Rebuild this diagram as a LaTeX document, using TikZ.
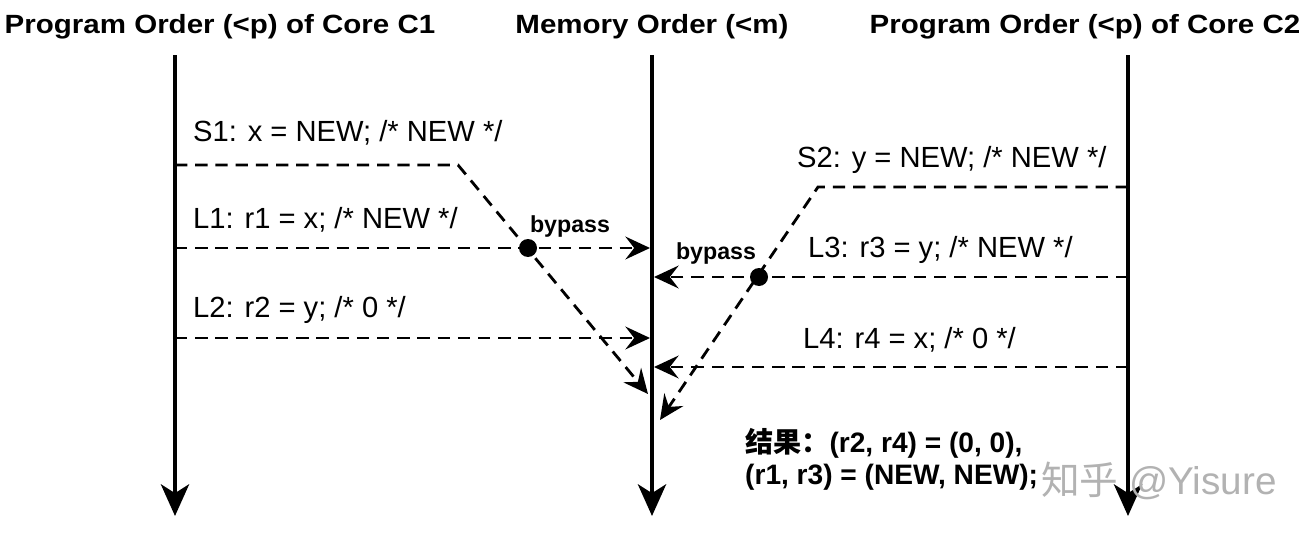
\documentclass[tikz,border=0pt]{standalone}
\usepackage{fontspec}
\setmainfont{Liberation Sans}
\newfontfamily\cjk{Noto Sans CJK SC}
\usetikzlibrary{arrows.meta}

\begin{document}
\begin{tikzpicture}[
    x=0.02cm, y=-0.02cm,
    timeline/.style={-{Stealth[length=18pt, width=16pt, inset=5pt]}, line width=2.4pt},
    msg/.style={-{Stealth[length=14pt, width=13pt, inset=5pt]}, line width=1.6pt, dash pattern=on 7pt off 4.5pt},
    title/.style={font=\fontsize{15}{17}\selectfont\bfseries},
    instr/.style={anchor=west, font=\fontsize{16.6}{19}\selectfont},
    result/.style={anchor=west, font=\fontsize{16}{19}\selectfont\bfseries},
    tag/.style={font=\fontsize{13.2}{15}\selectfont\bfseries},
    dot/.style={circle, fill=black, inner sep=0pt, minimum size=0.36cm}
]
\useasboundingbox[fill=white] (0,0) rectangle (1312,534);

% Titles
\node[title] (t1) at (220,27) {\scalebox{1.12}[1]{Program Order (<p) of Core C1}};
\node[title] (tm) at (652,27) {\scalebox{1.12}[1]{Memory Order (<m)}};
\node[title] (t2) at (1085,27) {\scalebox{1.12}[1]{Program Order (<p) of Core C2}};

% Time lines
\coordinate (c1top) at (175,55);  \coordinate (c1bot) at (175,516);
\coordinate (memtop) at (652,55); \coordinate (membot) at (652,516);
\coordinate (c2top) at (1128,55); \coordinate (c2bot) at (1128,516);
\draw[timeline] (c1top) -- (c1bot);
\draw[timeline] (memtop) -- (membot);
\draw[timeline] (c2top) -- (c2bot);

% Core C1
\node[instr] (s1) at (187,133) {S1: x = NEW; /* NEW */};
\node[instr] (l1) at (187,220) {L1: r1 = x; /* NEW */};
\node[instr] (l2) at (187,310) {L2: r2 = y; /* 0 */};
\coordinate (s1a) at (175,165); \coordinate (s1b) at (458,165); \coordinate (s1c) at (648,394);
\coordinate (l1a) at (175,248); \coordinate (l1b) at (650,248);
\coordinate (l2a) at (175,338); \coordinate (l2b) at (650,338);
\draw[msg] (s1a) -- (s1b) -- (s1c);
\draw[msg] (l1a) -- (l1b);
\draw[msg] (l2a) -- (l2b);
\node[dot] (byp1) at (528,248) {};
\node[tag] (byp1txt) at (570,227) {bypass};

% Core C2
\node[instr] (s2) at (791,160) {S2: y = NEW; /* NEW */};
\node[instr] (l3) at (802,250) {L3: r3 = y; /* NEW */};
\node[instr] (l4) at (797,340) {L4: r4 = x; /* 0 */};
\coordinate (s2a) at (1128,187); \coordinate (s2b) at (818,187); \coordinate (s2c) at (660,420);
\coordinate (l3a) at (1128,277); \coordinate (l3b) at (654,277);
\coordinate (l4a) at (1128,367); \coordinate (l4b) at (654,367);
\draw[msg] (s2a) -- (s2b) -- (s2c);
\draw[msg] (l3a) -- (l3b);
\draw[msg] (l4a) -- (l4b);
\node[dot] (byp2) at (759,277) {};
\node[tag] (byp2txt) at (716,254) {bypass};

% Result
\node[result] (res1) at (739,443) {{\cjk 结果：}(r2, r4) = (0, 0),};
\node[result] (res2) at (739,477) {(r1, r3) = (NEW, NEW);};

% Watermark
\node[anchor=west, text=black!30, font=\fontsize{22}{26}\selectfont] (wm) at (1035,481) {{\cjk 知乎} @Yisure};
\end{tikzpicture}
\end{document}
